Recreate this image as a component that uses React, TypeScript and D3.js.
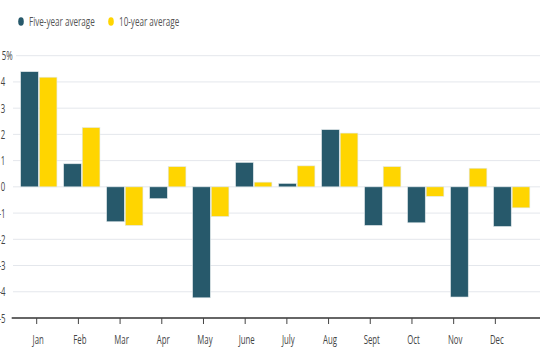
import React from "react";
import * as d3 from "d3";

const months = ["Jan", "Feb", "Mar", "Apr", "May", "June", "July", "Aug", "Sept", "Oct", "Nov", "Dec"];
const fiveYear = [4.39, 0.88, -1.33, -0.45, -4.23, 0.93, 0.13, 2.18, -1.47, -1.37, -4.2, -1.51];
const tenYear = [4.18, 2.26, -1.47, 0.77, -1.13, 0.18, 0.8, 2.05, 0.77, -0.36, 0.71, -0.8];
const seriesNames = ["Five-year average", "10-year average"];
const seriesColors = ["#27596b", "#ffd500"];
const yTicks = [5, 4, 3, 2, 1, 0, -1, -2, -3, -4, -5];

const W = 540;
const H = 360;
const SX = 0.6; // horizontal text compression

export default function App() {
  const y = d3.scaleLinear().domain([-5, 5]).range([318, 55.7]);
  const xAxis = d3.scaleBand<string>().domain(months).range([15.85, 516.2]);
  const x0 = d3.scaleBand<string>().domain(months).range([17.3, 533.2]);
  const x1 = d3
    .scaleBand<string>()
    .domain(seriesNames)
    .range([0, x0.bandwidth()])
    .paddingInner(0.05)
    .paddingOuter(0.18);
  const data = [fiveYear, tenYear];
  const font = "'Open Sans', 'Noto Sans', sans-serif";

  return (
    <svg
      width={W}
      height={H}
      style={{ position: "absolute", left: 0, top: 0, background: "#fff" }}
      fontFamily={font}
    >
      {/* legend */}
      {seriesNames.map((s, i) => {
        const lx = i === 0 ? 21 : 111;
        return (
          <g key={s}>
            <ellipse cx={lx} cy={21.5} rx={2.8} ry={4.3} fill={seriesColors[i]} />
            <text
              transform={`translate(${lx + 8},26) scale(${SX},1)`}
              fontSize={13.5}
              fill="#555"
            >
              {s}
            </text>
          </g>
        );
      })}

      {/* gridlines */}
      {yTicks
        .filter((t) => t !== -5)
        .map((t) => (
          <line
            key={t}
            x1={t === 5 ? 16 : 13}
            x2={W}
            y1={y(t)}
            y2={y(t)}
            stroke="#e4e7ec"
            strokeWidth={1}
          />
        ))}

      {/* y labels */}
      {yTicks.map((t) => (
        <text
          key={t}
          transform={`translate(${t === 5 ? 1.7 : t < 0 ? 5.5 : 5.2},${y(t) + 4.5}) scale(${SX},1)`}
          textAnchor={t === 5 ? "start" : "end"}
          fontSize={13}
          fill="#444"
        >
          {t === 5 ? "5%" : String(t)}
        </text>
      ))}

      {/* bars */}
      {months.map((m, mi) => (
        <g key={m} transform={`translate(${x0(m)},0)`}>
          {seriesNames.map((s, si) => {
            const v = data[si][mi];
            return (
              <rect
                key={s}
                x={x1(s)}
                width={x1.bandwidth()}
                y={Math.min(y(v), y(0))}
                height={Math.abs(y(v) - y(0))}
                fill={seriesColors[si]}
                stroke="#dfe7ea"
                strokeWidth={0.6}
              />
            );
          })}
        </g>
      ))}

      {/* x axis */}
      <line x1={11.7} x2={W} y1={y(-5)} y2={y(-5)} stroke="#333" strokeWidth={1.3} />
      {months.map((m) => {
        const cx = (xAxis(m) as number) + xAxis.bandwidth() / 2;
        return (
          <g key={m}>
            <line x1={cx} x2={cx} y1={y(-5)} y2={y(-5) + 6} stroke="#444" strokeWidth={1} />
            <text
              transform={`translate(${cx + 1.5},344) scale(${SX},1)`}
              textAnchor="middle"
              fontSize={13}
              fill="#444"
            >
              {m}
            </text>
          </g>
        );
      })}
    </svg>
  );
}
